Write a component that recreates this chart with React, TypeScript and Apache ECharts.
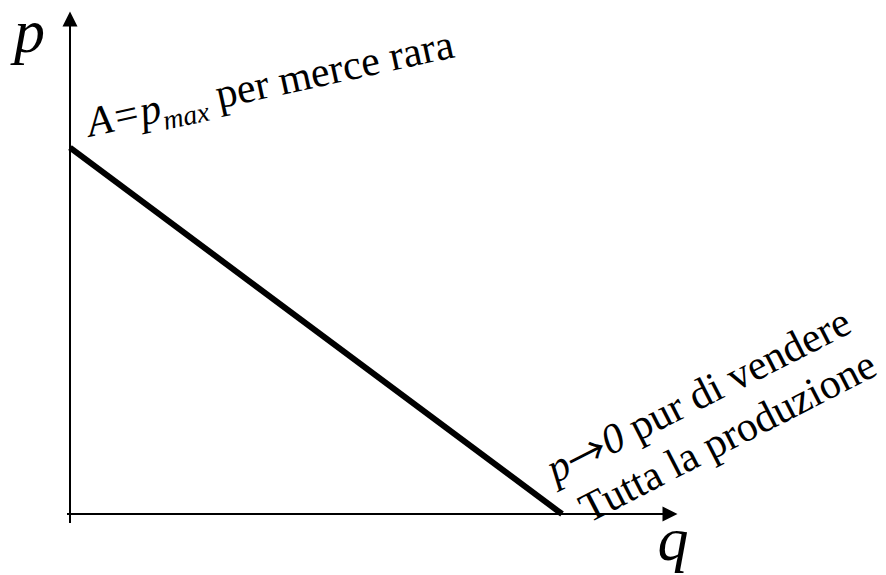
import React, { useEffect, useRef } from "react";
import * as echarts from "echarts";

// Linear demand curve: price p falls from A = p_max to 0 as quantity q grows.
const quantities = [0, 8.2];
const prices = [7.4, 0];
const axisMin = 0;
const axisMax = 10;
const axisNames = { x: "q", y: "p" };
const topNote = "{i|A=p}{sub|max}{n| per merce rara}";
const bottomNoteLine1 = "{i|p}{arrow|\u2192}{i|0}{n| pur di vendere}";
const bottomNoteLine2 = "Tutta la produzione";

const SERIF = "Liberation Serif";
const deg = (d: number) => (d * Math.PI) / 180;

export default function App() {
  const ref = useRef<HTMLDivElement>(null);

  useEffect(() => {
    if (!ref.current) return;
    const chart = echarts.init(ref.current, undefined, { renderer: "svg" });

    const axisLine = {
      show: true,
      onZero: false,
      symbol: ["none", "triangle"],
      symbolSize: [15, 15],
      lineStyle: { color: "#000", width: 2 },
    };

    chart.setOption({
      animation: false,
      backgroundColor: "#fff",
      textStyle: { fontFamily: SERIF },
      grid: { left: 70, top: 17, width: 600, height: 497 },
      xAxis: {
        type: "value",
        min: axisMin,
        max: axisMax,
        name: axisNames.x,
        nameLocation: "end",
        nameGap: 3,
        nameTextStyle: {
          fontFamily: SERIF,
          fontStyle: "italic",
          fontSize: 62,
          lineHeight: 50,
          color: "#000",
          align: "center",
          verticalAlign: "top",
        },
        axisLine,
        axisTick: {
          show: true,
          customValues: [0],
          length: 9,
          lineStyle: { color: "#000", width: 2 },
        },
        axisLabel: { show: false },
        splitLine: { show: false },
      },
      yAxis: {
        type: "value",
        min: axisMin,
        max: axisMax,
        name: axisNames.y,
        nameLocation: "end",
        nameGap: -12,
        nameTextStyle: {
          fontFamily: SERIF,
          fontStyle: "italic",
          fontSize: 62,
          lineHeight: 50,
          color: "#000",
          align: "right",
          verticalAlign: "middle",
          padding: [0, 25, 0, 0],
        },
        axisLine,
        axisTick: {
          show: true,
          customValues: [0],
          length: 3,
          lineStyle: { color: "#000", width: 2 },
        },
        axisLabel: { show: false },
        splitLine: { show: false },
      },
      series: [
        {
          type: "line",
          data: quantities.map((q, i) => [q, prices[i]]),
          symbol: "none",
          clip: false,
          lineStyle: { color: "#000", width: 6, cap: "butt" },
        },
      ],
      graphic: [
        {
          type: "text",
          x: 87,
          y: 123,
          rotation: deg(12.3),
          style: {
            text: topNote,
            fill: "#000",
            align: "left",
            verticalAlign: "middle",
            rich: {
              i: { fontFamily: SERIF, fontStyle: "italic", fontSize: 42, lineHeight: 56, fill: "#000" },
              sub: {
                fontFamily: SERIF,
                fontStyle: "italic",
                fontSize: 28,
                lineHeight: 28,
                verticalAlign: "bottom",
                fill: "#000",
              },
              n: { fontFamily: SERIF, fontSize: 42, lineHeight: 56, fill: "#000" },
            },
          },
        },
        {
          type: "text",
          x: 549,
          y: 471,
          rotation: deg(27),
          style: {
            text: bottomNoteLine1,
            fill: "#000",
            align: "left",
            verticalAlign: "middle",
            rich: {
              i: { fontFamily: SERIF, fontStyle: "italic", fontSize: 42, lineHeight: 42, fill: "#000" },
              arrow: { fontFamily: "Noto Sans CJK SC", fontSize: 40, lineHeight: 42, fill: "#000" },
              n: { fontFamily: SERIF, fontSize: 42, lineHeight: 42, fill: "#000" },
            },
          },
        },
        {
          type: "text",
          x: 582,
          y: 511,
          rotation: deg(27.2),
          style: {
            text: bottomNoteLine2,
            fill: "#000",
            fontFamily: SERIF,
            fontSize: 42,
            align: "left",
            verticalAlign: "middle",
          },
        },
      ],
    });

    return () => chart.dispose();
  }, []);

  return (
    <div
      ref={ref}
      style={{ position: "fixed", left: 0, top: 0, width: 886, height: 575, background: "#fff" }}
    />
  );
}
